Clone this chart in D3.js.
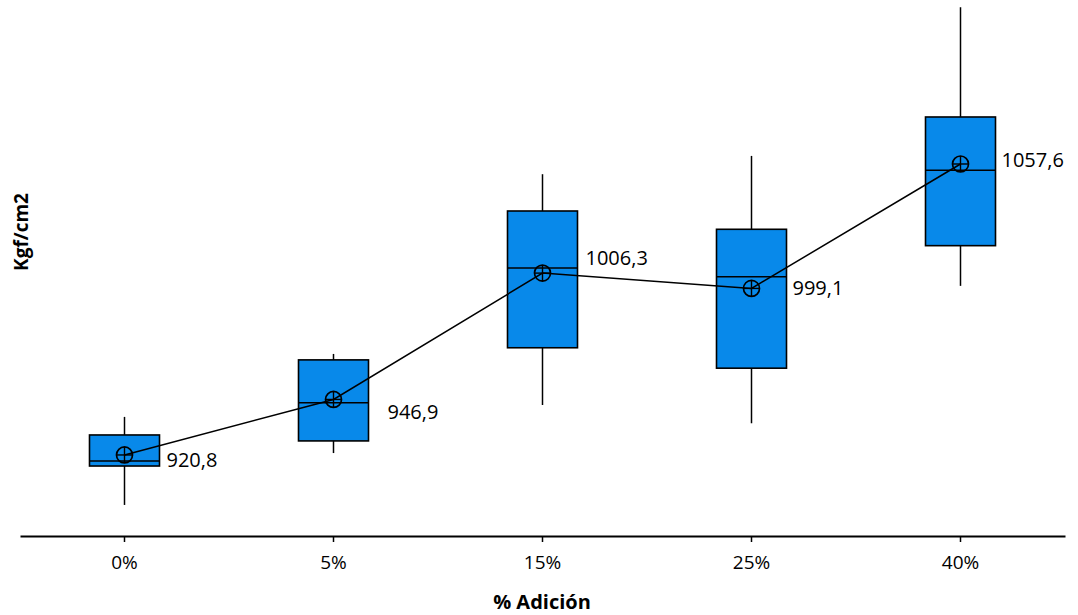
<!DOCTYPE html>
<html>
<head>
<meta charset="utf-8">
<script src="https://cdn.jsdelivr.net/npm/d3@7"></script>
<style>
  body { margin: 0; background: #fff; }
  text { font-family: "Open Sans", sans-serif; }
</style>
</head>
<body>
<div id="chart"></div>
<script>
// data
var categories = ["0%", "5%", "15%", "25%", "40%"];
var whiskerLow  = [897.3, 921.7, 944.3, 935.7, 1000.3];
var q1          = [915.6, 927.4, 971.2, 961.6, 1019.2];
var medians     = [918.0, 945.4, 1008.7, 1004.6, 1054.6];
var q3          = [930.2, 965.5, 1035.5, 1026.9, 1079.7];
var whiskerHigh = [938.7, 968.3, 1052.8, 1061.4, 1131.3];
var means       = [920.8, 946.9, 1006.3, 999.1, 1057.6];
var meanLabels  = ["920,8", "946,9", "1006,3", "999,1", "1057,6"];

var width = 1078, height = 615;

var svg = d3.select("#chart")
  .append("svg")
  .attr("width", width)
  .attr("height", height);

// x scale
var x = d3.scaleBand()
  .domain(categories)
  .range([20, 1065])
  .padding(0);

// y scale (no axis drawn)
var y = d3.scaleLinear()
  .domain([882.7, 1134.7])
  .range([536, 0]);

var boxW = 70;

var data = categories.map(function(c, i) {
  return {cat: c, lo: whiskerLow[i], q1: q1[i], med: medians[i], q3: q3[i],
          hi: whiskerHigh[i], mean: means[i], label: meanLabels[i]};
});

var cx = function(d) { return x(d.cat) + x.bandwidth() / 2; };

var g = svg.append("g");

// whiskers
g.selectAll(".wlo").data(data).enter().append("line")
  .attr("x1", cx).attr("x2", cx)
  .attr("y1", function(d) { return y(d.lo); })
  .attr("y2", function(d) { return y(d.q1); })
  .attr("stroke", "#000").attr("stroke-width", 1.5);

g.selectAll(".whi").data(data).enter().append("line")
  .attr("x1", cx).attr("x2", cx)
  .attr("y1", function(d) { return y(d.q3); })
  .attr("y2", function(d) { return y(d.hi); })
  .attr("stroke", "#000").attr("stroke-width", 1.5);

// boxes
g.selectAll("rect").data(data).enter().append("rect")
  .attr("x", function(d) { return cx(d) - boxW / 2; })
  .attr("y", function(d) { return y(d.q3); })
  .attr("width", boxW)
  .attr("height", function(d) { return y(d.q1) - y(d.q3); })
  .attr("fill", "#0889ea")
  .attr("stroke", "#000")
  .attr("stroke-width", 1.6);

// medians
g.selectAll(".med").data(data).enter().append("line")
  .attr("x1", function(d) { return cx(d) - boxW / 2; })
  .attr("x2", function(d) { return cx(d) + boxW / 2; })
  .attr("y1", function(d) { return y(d.med); })
  .attr("y2", function(d) { return y(d.med); })
  .attr("stroke", "#000").attr("stroke-width", 1.5);

// mean line
g.append("path")
  .datum(data)
  .attr("fill", "none")
  .attr("stroke", "#000")
  .attr("stroke-width", 1.5)
  .attr("d", d3.line()
    .x(cx)
    .y(function(d) { return y(d.mean); }));

// mean markers (circle with cross)
var r = 8;
var mk = g.selectAll(".mk").data(data).enter().append("g")
  .attr("transform", function(d) { return "translate(" + cx(d) + "," + y(d.mean) + ")"; });
mk.append("circle").attr("r", r).attr("fill", "none").attr("stroke", "#000").attr("stroke-width", 1.7);
mk.append("line").attr("x1", -r).attr("x2", r).attr("stroke", "#000").attr("stroke-width", 1.4);
mk.append("line").attr("y1", -r).attr("y2", r).attr("stroke", "#000").attr("stroke-width", 1.4);

// mean labels, nudged like the original
var nudge = [[7, 5], [19, 13], [8, -15], [6, 0], [6, -4]];
g.selectAll(".ml").data(data).enter().append("text")
  .attr("x", function(d, i) { return cx(d) + boxW / 2 + nudge[i][0]; })
  .attr("y", function(d, i) { return y(d.mean) + nudge[i][1]; })
  .attr("dy", "0.35em")
  .attr("font-size", "20px")
  .attr("fill", "#000")
  .text(function(d) { return d.label; });

// x axis
var xAxis = svg.append("g")
  .attr("transform", "translate(0,536)")
  .call(d3.axisBottom(x).tickSize(6).tickSizeOuter(0).tickPadding(14));
xAxis.select(".domain").attr("stroke-width", 2);
xAxis.selectAll(".tick line").attr("stroke-width", 1.5);
xAxis.selectAll("text")
  .attr("font-size", "19px")
  .attr("font-family", "Open Sans, sans-serif")
  .attr("fill", "#000");

// axis titles
svg.append("text")
  .attr("x", 542)
  .attr("y", 609)
  .attr("text-anchor", "middle")
  .attr("font-size", "20px")
  .attr("font-weight", "bold")
  .text("% Adición");

svg.append("text")
  .attr("transform", "translate(28,232) rotate(-90)")
  .attr("text-anchor", "middle")
  .attr("font-size", "19px")
  .attr("font-weight", "bold")
  .text("Kgf/cm2");
</script>
</body>
</html>
